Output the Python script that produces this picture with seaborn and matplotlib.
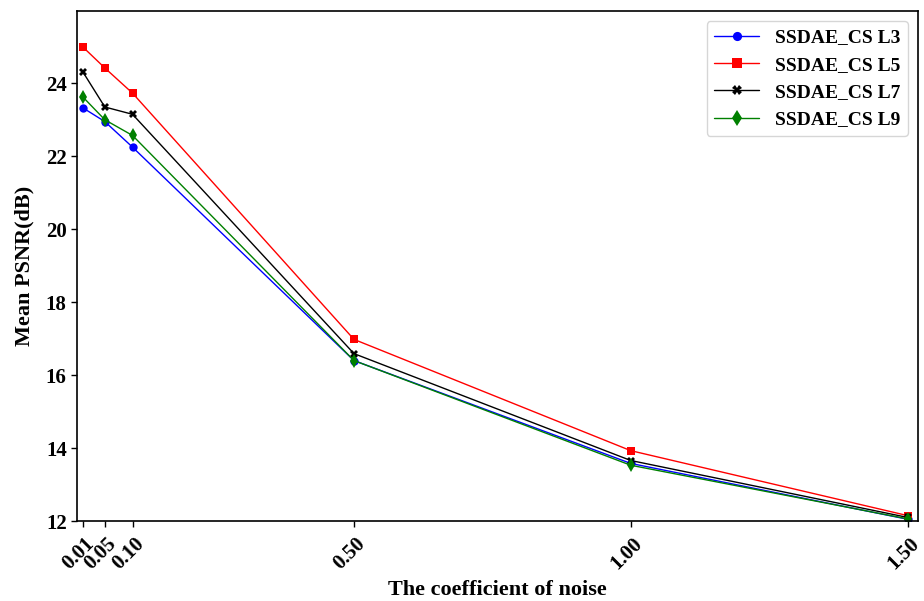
import matplotlib
matplotlib.use("Agg")
import matplotlib.pyplot as plt
import matplotlib.transforms as mtrans
import seaborn as sns
import pandas as pd

noise = [0.01, 0.05, 0.10, 0.50, 1.00, 1.50]
tick_labels = ["0.01", "0.05", "0.10", "0.50", "1.00", "1.50"]
series_names = ["SSDAE_CS L3", "SSDAE_CS L5", "SSDAE_CS L7", "SSDAE_CS L9"]
l3 = [23.33, 22.95, 22.25, 16.40, 13.58, 12.05]
l5 = [25.00, 24.42, 23.73, 16.98, 13.93, 12.15]
l7 = [24.32, 23.35, 23.15, 16.59, 13.66, 12.10]
l9 = [23.63, 23.00, 22.57, 16.40, 13.53, 12.06]

rows = []
for name, vals in zip(series_names, [l3, l5, l7, l9]):
    for x, v in zip(noise, vals):
        rows.append({"noise": x, "psnr": v, "model": name})
df = pd.DataFrame(rows)

sns.set_theme(style="ticks")
plt.rcParams["font.family"] = ["Liberation Serif", "DejaVu Serif"]
plt.rcParams["font.weight"] = "bold"
plt.rcParams["text.color"] = "black"
plt.rcParams["axes.labelcolor"] = "black"
plt.rcParams["xtick.color"] = "black"
plt.rcParams["ytick.color"] = "black"

fig = plt.figure(figsize=(9.24, 6.01), dpi=100)
ax = fig.add_axes([0.0835, 0.133, 0.9095, 0.848])

palette = {"SSDAE_CS L3": "blue", "SSDAE_CS L5": "red",
           "SSDAE_CS L7": "black", "SSDAE_CS L9": "green"}
markers = {"SSDAE_CS L3": "o", "SSDAE_CS L5": "s",
           "SSDAE_CS L7": "X", "SSDAE_CS L9": "d"}
sizes = {"SSDAE_CS L3": 6, "SSDAE_CS L5": 6, "SSDAE_CS L7": 6, "SSDAE_CS L9": 7}

for name in series_names:
    sub = df[df["model"] == name]
    sns.lineplot(data=sub, x="noise", y="psnr", ax=ax, color=palette[name],
                 marker=markers[name], markersize=sizes[name], linewidth=1,
                 markeredgewidth=0, label=name, sort=False)

ax.set_xlim(0.0, 1.518)
ax.set_ylim(12, 25.97)
ax.set_xticks(noise)
ax.set_xticklabels(tick_labels, rotation=45, fontsize=15, fontweight="bold", color="black")
ax.set_yticks([12, 14, 16, 18, 20, 22, 24])
ax.set_yticklabels(["12", "14", "16", "18", "20", "22", "24"], fontsize=15, fontweight="bold", color="black")
ax.tick_params(direction="out", length=4, width=1, colors="black")
ax.tick_params(axis="x", pad=5)
offset = mtrans.ScaledTranslation(-4 / 100, 0, fig.dpi_scale_trans)
for lbl in ax.get_xticklabels():
    lbl.set_transform(lbl.get_transform() + offset)
for s in ax.spines.values():
    s.set_visible(True)
    s.set_color("black")
    s.set_linewidth(1.2)

ax.set_xlabel("The coefficient of noise", fontsize=16, fontweight="bold", labelpad=5, color="black")
ax.set_ylabel("Mean PSNR(dB)", fontsize=16, fontweight="bold", labelpad=8, color="black")

leg = ax.legend(loc="upper right", prop={"family": "Liberation Serif", "weight": "bold", "size": 14},
                frameon=True, fancybox=True, handlelength=2.3, markerscale=1.1)
leg.get_frame().set_edgecolor("#cccccc")
for t in leg.get_texts():
    t.set_color("black")

fig.savefig("out.png", dpi=100)
